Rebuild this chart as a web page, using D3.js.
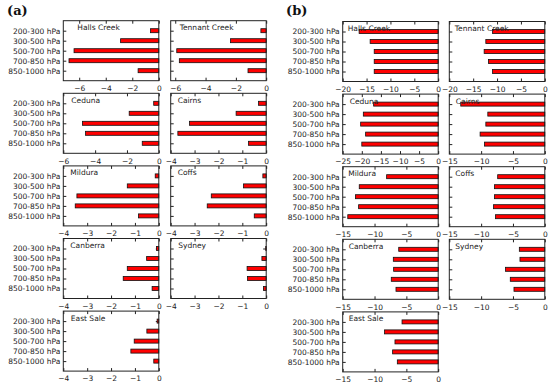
<!DOCTYPE html>
<html>
<head>
<meta charset="utf-8">
<script src="https://cdn.jsdelivr.net/npm/d3@7"></script>
<style>
  body { margin: 0; background: #fff; }
  svg { display: block; }
</style>
</head>
<body>
<svg id="chart"></svg>
<script>
const levels = ["200-300 hPa", "300-500 hPa", "500-700 hPa", "700-850 hPa", "850-1000 hPa"];
const stations = ["Halls Creek", "Tennant Creek", "Ceduna", "Cairns", "Mildura", "Coffs", "Canberra", "Sydney", "East Sale"];

// panel (a)
const valuesA = [
  [-0.62, -2.88, -6.39, -6.77, -1.56],
  [-0.35, -2.35, -5.9, -5.73, -1.2],
  [-0.32, -1.86, -4.8, -4.6, -1.04],
  [-0.32, -1.26, -3.21, -3.7, -0.74],
  [-0.15, -1.32, -3.43, -3.5, -0.85],
  [-0.14, -0.95, -2.3, -2.47, -0.5],
  [-0.1, -0.51, -1.32, -1.49, -0.28],
  [-0.02, -0.18, -0.8, -0.78, -0.11],
  [-0.07, -0.5, -1.03, -1.17, -0.21]
];
const xminA = [-7.2, -6.3, -6, -4, -4, -4, -4, -4, -4];
const ticksA = [
  [-6, -4, -2, 0], [-6, -4, -2, 0], [-6, -4, -2, 0],
  [-4, -3, -2, -1, 0], [-4, -3, -2, -1, 0], [-4, -3, -2, -1, 0],
  [-4, -3, -2, -1, 0], [-4, -3, -2, -1, 0], [-4, -3, -2, -1, 0]
];

// panel (b)
const valuesB = [
  [-16.56, -14.25, -13.4, -13.4, -13.4],
  [-10.95, -12.35, -12.7, -11.8, -10.95],
  [-16.9, -19.6, -20.3, -19.0, -20.0],
  [-13.2, -8.95, -9.26, -10.16, -9.47],
  [-8.1, -12.4, -13.0, -12.5, -14.2],
  [-7.4, -7.9, -7.9, -8.05, -7.74],
  [-6.2, -7.05, -7.0, -7.37, -6.63],
  [-4.0, -3.9, -6.16, -5.42, -4.84],
  [-5.68, -8.42, -6.79, -7.16, -6.42]
];
const xminB = [-20, -20, -25, -15, -15, -15, -15, -15, -15];
const ticksB = [
  [-20, -15, -10, -5, 0], [-20, -15, -10, -5, 0], [-25, -20, -15, -10, -5, 0],
  [-15, -10, -5, 0], [-15, -10, -5, 0], [-15, -10, -5, 0],
  [-15, -10, -5, 0], [-15, -10, -5, 0], [-15, -10, -5, 0]
];

const width = 550, height = 385;
const svg = d3.select("#chart").attr("width", width).attr("height", height);
const font = "DejaVu Sans, sans-serif";
const fmt = (d) => (d < 0 ? "\u2212" + Math.abs(d) : String(d));

const panels = [
  { label: "(a)", lx: 7, ly: 15, cols: [63.3, 170.7], top: 20.7, values: valuesA, xmin: xminA, ticks: ticksA,
    titleDx: [14, 9, 8, 7, 7, 7, 7, 7.5, 7.5] },
  { label: "(b)", lx: 286, ly: 15, cols: [342.7, 449.3], top: 21.5, values: valuesB, xmin: xminB, ticks: ticksB,
    titleDx: [5, 5.5, 7, 6.5, 5.5, 6, 6, 6, 6] }
];
const boxW = 95.5, boxH = 60, rowStep = 72.6;

panels.forEach((p) => {
  svg.append("text")
    .attr("x", p.lx).attr("y", p.ly)
    .attr("font-family", "DejaVu Serif, serif")
    .attr("font-weight", "bold")
    .attr("font-size", 13)
    .attr("fill", "#111")
    .text(p.label);

  stations.forEach((name, i) => {
    const col = i % 2, row = Math.floor(i / 2);
    const x0 = p.cols[col], y0 = p.top + row * rowStep;
    const g = svg.append("g").attr("transform", `translate(${x0},${y0})`);

    const x = d3.scaleLinear().domain([p.xmin[i], 0]).range([0, boxW]);
    const y = d3.scalePoint().domain(levels).range([0, boxH]).padding(1);

    // bottom axis
    const xAxis = g.append("g")
      .attr("transform", `translate(0,${boxH})`)
      .call(d3.axisBottom(x).tickValues(p.ticks[i]).tickFormat(fmt).tickSizeInner(-3).tickSizeOuter(0).tickPadding(5));
    xAxis.select(".domain").remove();
    xAxis.selectAll("line").attr("stroke", "#222");
    xAxis.selectAll("text").attr("font-family", font).attr("font-size", 7.5).attr("fill", "#222");

    // top ticks
    const xTop = g.append("g").call(d3.axisTop(x).tickValues(p.ticks[i]).tickFormat("").tickSizeInner(-3).tickSizeOuter(0));
    xTop.select(".domain").remove();
    xTop.selectAll("line").attr("stroke", "#222");

    // left axis
    const yAxis = g.append("g").call(d3.axisLeft(y).tickSizeInner(-3).tickSizeOuter(0).tickPadding(3)
      .tickFormat(col === 0 ? (d) => d : ""));
    yAxis.select(".domain").remove();
    yAxis.selectAll("line").attr("stroke", "#222");
    yAxis.selectAll("text").attr("font-family", font).attr("font-size", 7.5).attr("fill", "#222");

    const yRight = g.append("g").attr("transform", `translate(${boxW},0)`)
      .call(d3.axisRight(y).tickFormat("").tickSizeInner(-3).tickSizeOuter(0));
    yRight.select(".domain").remove();
    yRight.selectAll("line").attr("stroke", "#222");

    // bars
    const vals = levels.map((lv, k) => ({ lv, v: p.values[i][k] }));
    g.selectAll("rect.bar")
      .data(vals)
      .enter()
      .append("rect")
      .attr("class", "bar")
      .attr("x", (d) => x(d.v))
      .attr("y", (d) => y(d.lv) - 2)
      .attr("width", (d) => x(0) - x(d.v))
      .attr("height", 4)
      .attr("fill", "#ff0000")
      .attr("stroke", "#111")
      .attr("stroke-width", 0.8);

    // station name
    g.append("text")
      .attr("x", p.titleDx[i]).attr("y", 9.5)
      .attr("font-family", font)
      .attr("font-size", 7.5)
      .attr("fill", "#222")
      .text(name);

    // frame
    g.append("rect")
      .attr("width", boxW).attr("height", boxH)
      .attr("fill", "none")
      .attr("stroke", "#222")
      .attr("stroke-width", 1);
  });
});
</script>
</body>
</html>
